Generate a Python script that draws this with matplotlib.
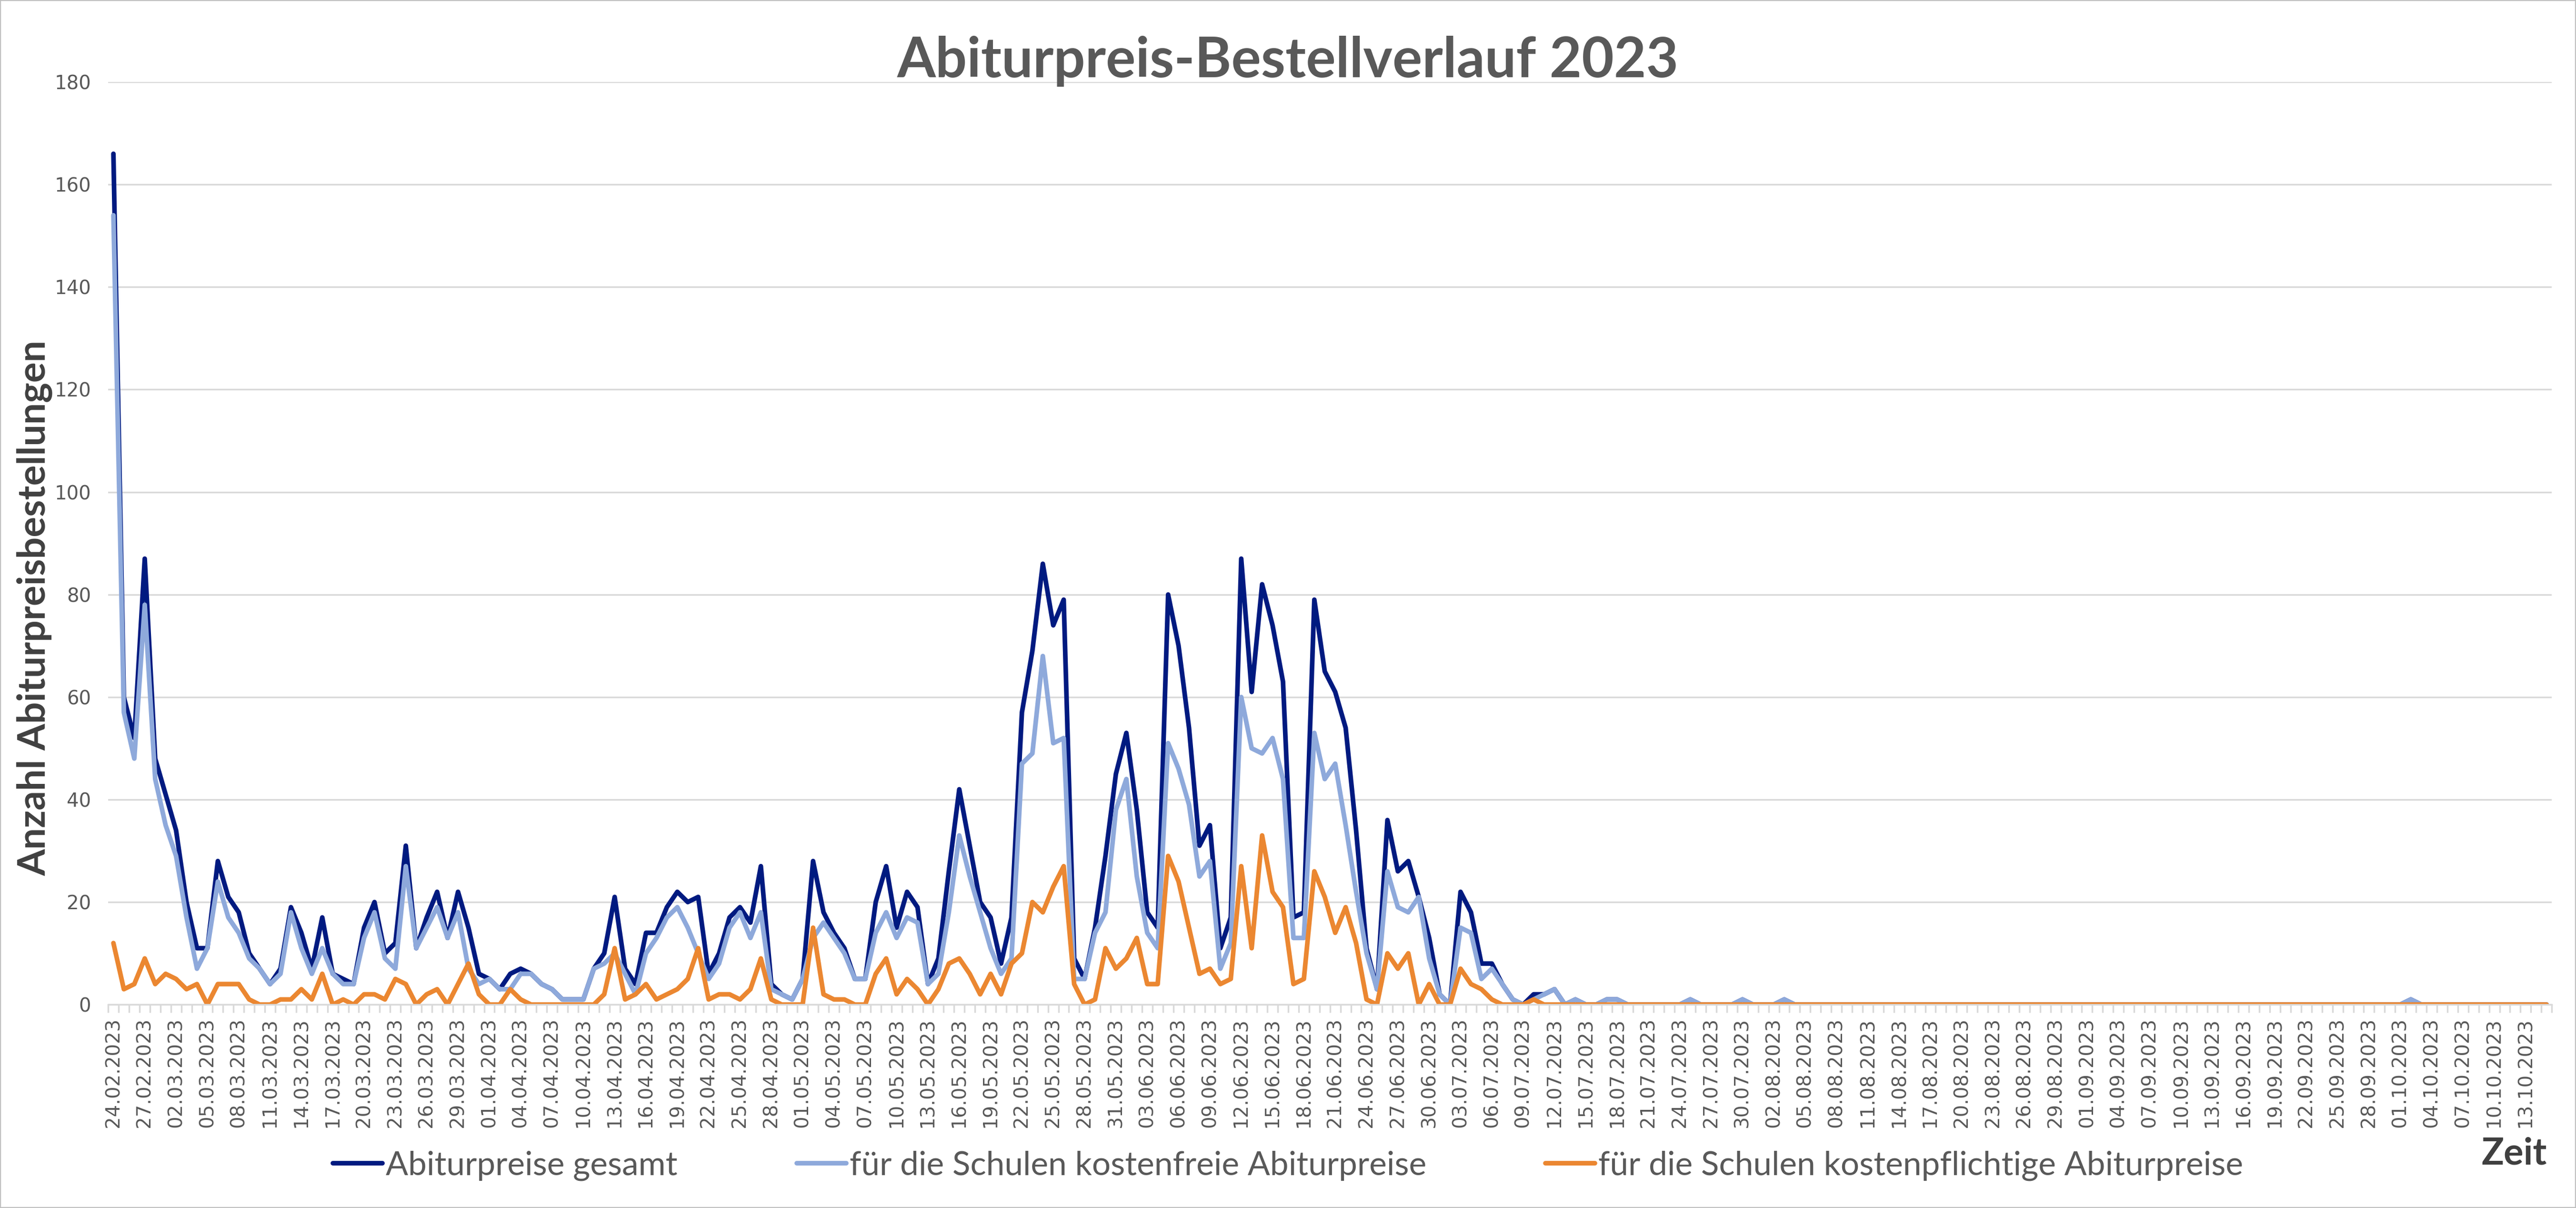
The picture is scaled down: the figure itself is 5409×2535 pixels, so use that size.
import numpy as np
import pandas as pd
import matplotlib
matplotlib.use("Agg")
import matplotlib.pyplot as plt
from matplotlib.patches import Rectangle

# daily orders 24.02.2023 - 15.10.2023
start_date = "2023-02-24"

gesamt = [
    166, 60, 52, 87, 48, 41, 34, 20, 11, 11, 28, 21, 18, 10, 7, 4, 7, 19, 14, 7,
    17, 6, 5, 4, 15, 20, 10, 12, 31, 11, 17, 22, 13, 22, 15, 6, 5, 3, 6, 7,
    6, 4, 3, 1, 1, 1, 7, 10, 21, 7, 4, 14, 14, 19, 22, 20, 21, 6, 10, 17,
    19, 16, 27, 4, 2, 1, 5, 28, 18, 14, 11, 5, 5, 20, 27, 15, 22, 19, 4, 9,
    26, 42, 31, 20, 17, 8, 17, 57, 69, 86, 74, 79, 9, 5, 15, 29, 45, 53, 38, 18,
    15, 80, 70, 54, 31, 35, 11, 17, 87, 61, 82, 74, 63, 17, 18, 79, 65, 61, 54, 34,
    11, 3, 36, 26, 28, 21, 13, 2, 0, 22, 18, 8, 8, 4, 1, 0, 2, 2, 3, 0,
    1, 0, 0, 1, 1, 0, 0, 0, 0, 0, 0, 1, 0, 0, 0, 0, 1, 0, 0, 0,
    1, 0, 0, 0, 0, 0, 0, 0, 0, 0, 0, 0, 0, 0, 0, 0, 0, 0, 0, 0,
    0, 0, 0, 0, 0, 0, 0, 0, 0, 0, 0, 0, 0, 0, 0, 0, 0, 0, 0, 0,
    0, 0, 0, 0, 0, 0, 0, 0, 0, 0, 0, 0, 0, 0, 0, 0, 0, 0, 0, 0,
    1, 0, 0, 0, 0, 0, 0, 0, 0, 0, 0, 0, 0, 0,
]

kostenfrei = [
    154, 57, 48, 78, 44, 35, 29, 17, 7, 11, 24, 17, 14, 9, 7, 4, 6, 18, 11, 6,
    11, 6, 4, 4, 13, 18, 9, 7, 27, 11, 15, 19, 13, 18, 7, 4, 5, 3, 3, 6,
    6, 4, 3, 1, 1, 1, 7, 8, 10, 6, 2, 10, 13, 17, 19, 15, 10, 5, 8, 15,
    18, 13, 18, 3, 2, 1, 5, 13, 16, 13, 10, 5, 5, 14, 18, 13, 17, 16, 4, 6,
    18, 33, 25, 18, 11, 6, 9, 47, 49, 68, 51, 52, 5, 5, 14, 18, 38, 44, 25, 14,
    11, 51, 46, 39, 25, 28, 7, 12, 60, 50, 49, 52, 44, 13, 13, 53, 44, 47, 35, 22,
    10, 3, 26, 19, 18, 21, 9, 2, 0, 15, 14, 5, 7, 4, 1, 0, 1, 2, 3, 0,
    1, 0, 0, 1, 1, 0, 0, 0, 0, 0, 0, 1, 0, 0, 0, 0, 1, 0, 0, 0,
    1, 0, 0, 0, 0, 0, 0, 0, 0, 0, 0, 0, 0, 0, 0, 0, 0, 0, 0, 0,
    0, 0, 0, 0, 0, 0, 0, 0, 0, 0, 0, 0, 0, 0, 0, 0, 0, 0, 0, 0,
    0, 0, 0, 0, 0, 0, 0, 0, 0, 0, 0, 0, 0, 0, 0, 0, 0, 0, 0, 0,
    1, 0, 0, 0, 0, 0, 0, 0, 0, 0, 0, 0, 0, 0,
]

kostenpflichtig = [
    12, 3, 4, 9, 4, 6, 5, 3, 4, 0, 4, 4, 4, 1, 0, 0, 1, 1, 3, 1,
    6, 0, 1, 0, 2, 2, 1, 5, 4, 0, 2, 3, 0, 4, 8, 2, 0, 0, 3, 1,
    0, 0, 0, 0, 0, 0, 0, 2, 11, 1, 2, 4, 1, 2, 3, 5, 11, 1, 2, 2,
    1, 3, 9, 1, 0, 0, 0, 15, 2, 1, 1, 0, 0, 6, 9, 2, 5, 3, 0, 3,
    8, 9, 6, 2, 6, 2, 8, 10, 20, 18, 23, 27, 4, 0, 1, 11, 7, 9, 13, 4,
    4, 29, 24, 15, 6, 7, 4, 5, 27, 11, 33, 22, 19, 4, 5, 26, 21, 14, 19, 12,
    1, 0, 10, 7, 10, 0, 4, 0, 0, 7, 4, 3, 1, 0, 0, 0, 1, 0, 0, 0,
    0, 0, 0, 0, 0, 0, 0, 0, 0, 0, 0, 0, 0, 0, 0, 0, 0, 0, 0, 0,
    0, 0, 0, 0, 0, 0, 0, 0, 0, 0, 0, 0, 0, 0, 0, 0, 0, 0, 0, 0,
    0, 0, 0, 0, 0, 0, 0, 0, 0, 0, 0, 0, 0, 0, 0, 0, 0, 0, 0, 0,
    0, 0, 0, 0, 0, 0, 0, 0, 0, 0, 0, 0, 0, 0, 0, 0, 0, 0, 0, 0,
    0, 0, 0, 0, 0, 0, 0, 0, 0, 0, 0, 0, 0, 0,
]

series_names = [
    "Abiturpreise gesamt",
    "für die Schulen kostenfreie Abiturpreise",
    "für die Schulen kostenpflichtige Abiturpreise",
]
colors = ["#001A80", "#8EA9DB", "#EB8731"]

y_ticks = list(range(0, 181, 20))

dates = pd.date_range(start_date, periods=len(gesamt), freq="D")
x = np.arange(len(gesamt))

grey_text = "#595959"
dark_text = "#404040"
grid_col = "#D9D9D9"

fig = plt.figure(figsize=(54.09, 25.35), dpi=100)
ax = fig.add_axes([0.0420, 0.1684, 0.9486, 0.7637])

for vals, name, col in zip([gesamt, kostenfrei, kostenpflichtig], series_names, colors):
    ax.plot(x, vals, color=col, lw=7, label=name,
            solid_joinstyle="round", solid_capstyle="round")

ax.set_xlim(-0.5, len(gesamt) - 0.5)
ax.set_ylim(0, 180)
ax.set_yticks(y_ticks)
ax.yaxis.grid(True, color=grid_col, lw=2.5)
ax.set_axisbelow(True)

for s in ["top", "right", "left"]:
    ax.spines[s].set_visible(False)
ax.spines["bottom"].set_color(grid_col)
ax.spines["bottom"].set_linewidth(2.5)

label_pos = x[::3]
ax.set_xticks(label_pos)
ax.set_xticklabels([d.strftime("%d.%m.%Y") for d in dates[::3]], rotation=90,
                   fontsize=29, color=grey_text, family="DejaVu Sans")
ax.set_xticks(np.arange(-0.5, len(gesamt), 1), minor=True)
ax.tick_params(axis="x", which="major", length=0, pad=20)
ax.tick_params(axis="x", which="minor", length=12, width=2.5, color=grid_col)
ax.tick_params(axis="y", length=0, pad=26, labelsize=29, labelcolor=grey_text)

fig.text(0.5, 0.9495, "Abiturpreis-Bestellverlauf 2023", ha="center", va="center",
         fontsize=84, fontweight="bold", color=grey_text, family="Lato")
fig.text(0.0135, 0.4966, "Anzahl Abiturpreisbestellungen", ha="center", va="center",
         rotation=90, fontsize=58, fontweight="bold", color=dark_text, family="Lato")
fig.text(0.976, 0.0446, "Zeit", ha="center", va="center",
         fontsize=56, fontweight="bold", color=dark_text, family="Lato")

leg = fig.legend(loc="center", bbox_to_anchor=(0.5, 0.035), ncol=3, frameon=False,
                 handlelength=1.5, handletextpad=0.1, columnspacing=3.6,
                 prop={"family": "Lato", "size": 50})
for t in leg.get_texts():
    t.set_color(grey_text)

fig.patches.append(Rectangle((0, 0), 1, 1, transform=fig.transFigure, fill=False,
                             edgecolor="#BFBFBF", lw=3))

fig.savefig("out.png", dpi=100)
